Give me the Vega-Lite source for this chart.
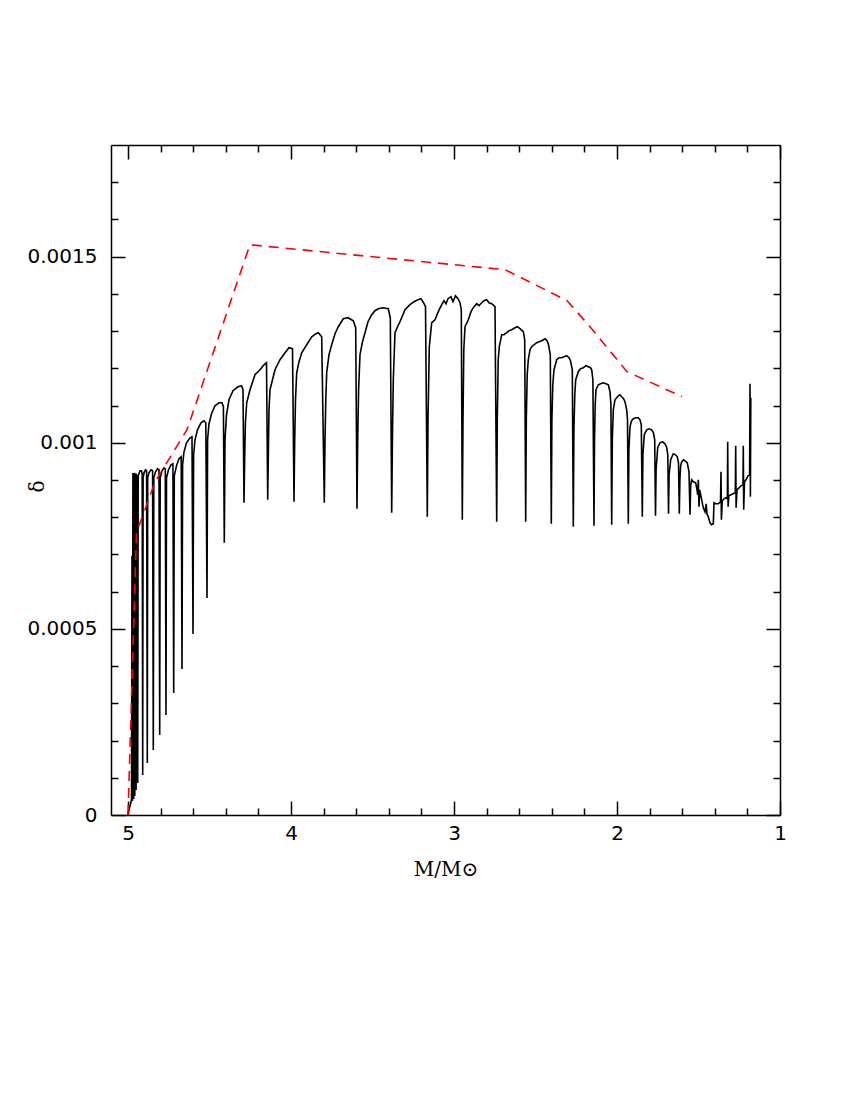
{
"$schema": "https://vega.github.io/schema/vega-lite/v6.json",
"width": 669, "height": 670,
"autosize": {"type": "none"},
"padding": {"left": 111, "top": 145, "right": 70, "bottom": 285},
"background": "white",
"config": {"view": {"stroke": null}, "axis": {"grid": false, "domainColor": "black", "tickColor": "black", "domainWidth": 1.5, "tickWidth": 1.5, "labelColor": "black", "titleColor": "black", "labelFont": "DejaVu Sans", "labelFontSize": 20, "titleFont": "DejaVu Serif", "titleFontSize": 20, "titleFontWeight": "normal", "labelFlush": false, "labelOverlap": false}},
"datasets": {
"sim": [
{"M":5.0031,"d":0},{"M":4.9908,"d":0.0000188},{"M":4.9785,"d":0.0000403},{"M":4.9755,"d":0.0006962},{"M":4.9730,"d":0.0000376},{"M":4.9699,"d":0.0009167},{"M":4.9669,"d":0.0009167},{"M":4.9650,"d":0.0000430},{"M":4.9632,"d":0.0009167},{"M":4.9601,"d":0.0009140},{"M":4.9583,"d":0.0000511},{"M":4.9564,"d":0.0009140},{"M":4.9521,"d":0.0009113},{"M":4.9503,"d":0.0000672},{"M":4.9485,"d":0.0009140},{"M":4.9436,"d":0.0009113},{"M":4.9405,"d":0.0000860},{"M":4.9374,"d":0.0009113},{"M":4.9264,"d":0.0009247},{"M":4.9172,"d":0.0009247},{"M":4.9129,"d":0.0009167},
{"M":4.9098,"d":0.0001075},{"M":4.9074,"d":0.0009059},{"M":4.9018,"d":0.0009194},{"M":4.8926,"d":0.0009274},{"M":4.8859,"d":0.0009247},
{"M":4.8816,"d":0.0001398},{"M":4.8791,"d":0.0009059},{"M":4.8712,"d":0.0009194},{"M":4.8589,"d":0.0009274},{"M":4.8491,"d":0.0009247},
{"M":4.8448,"d":0.0001747},{"M":4.8417,"d":0.0009059},{"M":4.8313,"d":0.0009220},{"M":4.8190,"d":0.0009301},{"M":4.8098,"d":0.0009274},
{"M":4.8055,"d":0.0002151},{"M":4.8025,"d":0.0009059},{"M":4.7914,"d":0.0009247},{"M":4.7791,"d":0.0009328},{"M":4.7712,"d":0.0009301},
{"M":4.7669,"d":0.0002688},{"M":4.7638,"d":0.0009059},{"M":4.7515,"d":0.0009274},{"M":4.7362,"d":0.0009409},{"M":4.7245,"d":0.0009435},
{"M":4.7196,"d":0.0003280},{"M":4.7160,"d":0.0009113},{"M":4.7025,"d":0.0009382},{"M":4.6871,"d":0.0009570},{"M":4.6736,"d":0.0009624},
{"M":4.6687,"d":0.0003925},{"M":4.6650,"d":0.0009409},{"M":4.6564,"d":0.0009758},{"M":4.6411,"d":0.0010000},{"M":4.6196,"d":0.0010134},{"M":4.6074,"d":0.0010161},
{"M":4.6012,"d":0.0004866},{"M":4.5975,"d":0.0009677},{"M":4.5890,"d":0.0010081},{"M":4.5736,"d":0.0010349},{"M":4.5521,"d":0.0010538},{"M":4.5337,"d":0.0010591},{"M":4.5227,"d":0.0010538},
{"M":4.5153,"d":0.0005833},{"M":4.5117,"d":0.0010081},{"M":4.5031,"d":0.0010511},{"M":4.4877,"d":0.0010780},{"M":4.4663,"d":0.0010995},{"M":4.4417,"d":0.0011075},{"M":4.4233,"d":0.0011075},{"M":4.4147,"d":0.0010968},
{"M":4.4092,"d":0.0007312},{"M":4.4049,"d":0.0010081},{"M":4.3957,"d":0.0010753},{"M":4.3804,"d":0.0011156},{"M":4.3558,"d":0.0011398},{"M":4.3252,"d":0.0011505},{"M":4.3037,"d":0.0011532},{"M":4.2945,"d":0.0011425},
{"M":4.2883,"d":0.0008387},{"M":4.2840,"d":0.0009624},{"M":4.2798,"d":0.0010538},{"M":4.2718,"d":0.0011075},{"M":4.2515,"d":0.0011425},{"M":4.2209,"d":0.0011828},{"M":4.1902,"d":0.0011962},{"M":4.1656,"d":0.0012097},{"M":4.1503,"d":0.0012151},
{"M":4.1429,"d":0.0008468},{"M":4.1387,"d":0.0009812},{"M":4.1350,"d":0.0010887},{"M":4.1288,"d":0.0011425},{"M":4.0982,"d":0.0011962},{"M":4.0675,"d":0.0012231},{"M":4.0368,"d":0.0012419},{"M":4.0123,"d":0.0012554},{"M":3.9908,"d":0.0012527},
{"M":3.9816,"d":0.0008414},{"M":3.9773,"d":0.0010081},{"M":3.9724,"d":0.0011156},{"M":3.9650,"d":0.0011882},{"M":3.9509,"d":0.0012177},{"M":3.9344,"d":0.0012419},{"M":3.9037,"d":0.0012634},{"M":3.8730,"d":0.0012849},{"M":3.8466,"d":0.0012930},{"M":3.8325,"d":0.0012957},{"M":3.8117,"d":0.0012849},
{"M":3.7957,"d":0.0008387},{"M":3.7914,"d":0.0010081},{"M":3.7865,"d":0.0011156},{"M":3.7810,"d":0.0011882},{"M":3.7669,"d":0.0012366},{"M":3.7503,"d":0.0012634},{"M":3.7301,"d":0.0012930},{"M":3.7098,"d":0.0013118},{"M":3.6791,"d":0.0013333},{"M":3.6503,"d":0.0013360},{"M":3.6178,"d":0.0013280},{"M":3.6031,"d":0.0013091},
{"M":3.5951,"d":0.0008226},{"M":3.5908,"d":0.0010081},{"M":3.5853,"d":0.0011425},{"M":3.5767,"d":0.0012366},{"M":3.5613,"d":0.0012715},{"M":3.5460,"d":0.0012957},{"M":3.5276,"d":0.0013253},{"M":3.5049,"d":0.0013441},{"M":3.4847,"d":0.0013548},{"M":3.4644,"d":0.0013602},{"M":3.4356,"d":0.0013629},{"M":3.4031,"d":0.0013602},{"M":3.3908,"d":0.0013360},
{"M":3.3822,"d":0.0008118},{"M":3.3779,"d":0.0010081},{"M":3.3724,"d":0.0011694},{"M":3.3620,"d":0.0012957},{"M":3.3466,"d":0.0013118},{"M":3.3313,"d":0.0013253},{"M":3.3006,"d":0.0013575},{"M":3.2699,"d":0.0013710},{"M":3.2454,"d":0.0013790},{"M":3.2209,"d":0.0013844},{"M":3.2025,"d":0.0013871},{"M":3.1871,"d":0.0013763},{"M":3.1748,"d":0.0013656},
{"M":3.1638,"d":0.0008011},{"M":3.1595,"d":0.0010618},{"M":3.1515,"d":0.0012581},{"M":3.1368,"d":0.0013226},{"M":3.1166,"d":0.0013306},{"M":3.0963,"d":0.0013522},{"M":3.0755,"d":0.0013710},{"M":3.0613,"d":0.0013817},{"M":3.0491,"d":0.0013737},{"M":3.0368,"d":0.0013871},{"M":3.0184,"d":0.0013925},{"M":3.0061,"d":0.0013790},{"M":2.9908,"d":0.0013952},{"M":2.9755,"d":0.0013871},{"M":2.9632,"d":0.0013763},{"M":2.9552,"d":0.0013575},
{"M":2.9491,"d":0.0007930},{"M":2.9448,"d":0.0010618},{"M":2.9399,"d":0.0012500},{"M":2.9325,"d":0.0013118},{"M":2.9123,"d":0.0013306},{"M":2.8957,"d":0.0013522},{"M":2.8816,"d":0.0013629},{"M":2.8607,"d":0.0013737},{"M":2.8466,"d":0.0013683},{"M":2.8301,"d":0.0013763},{"M":2.8160,"d":0.0013817},{"M":2.7994,"d":0.0013844},{"M":2.7853,"d":0.0013763},{"M":2.7687,"d":0.0013737},{"M":2.7485,"d":0.0013656},
{"M":2.7380,"d":0.0007876},{"M":2.7344,"d":0.0010618},{"M":2.7288,"d":0.0012231},{"M":2.7221,"d":0.0012581},{"M":2.7074,"d":0.0012903},{"M":2.6933,"d":0.0012903},{"M":2.6767,"d":0.0012957},{"M":2.6626,"d":0.0013011},{"M":2.6460,"d":0.0013038},{"M":2.6258,"d":0.0013091},{"M":2.6104,"d":0.0013118},{"M":2.5951,"d":0.0013065},{"M":2.5748,"d":0.0012984},{"M":2.5663,"d":0.0012769},
{"M":2.5601,"d":0.0007876},{"M":2.5564,"d":0.0010618},{"M":2.5509,"d":0.0011828},{"M":2.5442,"d":0.0012231},{"M":2.5337,"d":0.0012500},{"M":2.5233,"d":0.0012581},{"M":2.4926,"d":0.0012688},{"M":2.4785,"d":0.0012715},{"M":2.4620,"d":0.0012742},{"M":2.4417,"d":0.0012796},{"M":2.4294,"d":0.0012742},{"M":2.4202,"d":0.0012634},{"M":2.4092,"d":0.0012366},
{"M":2.4031,"d":0.0007823},{"M":2.3994,"d":0.0010618},{"M":2.3939,"d":0.0011559},{"M":2.3865,"d":0.0011962},{"M":2.3699,"d":0.0012231},{"M":2.3558,"d":0.0012285},{"M":2.3393,"d":0.0012285},{"M":2.3252,"d":0.0012312},{"M":2.3086,"d":0.0012339},{"M":2.2945,"d":0.0012285},{"M":2.2853,"d":0.0012204},{"M":2.2742,"d":0.0011962},
{"M":2.2681,"d":0.0007742},{"M":2.2644,"d":0.0010349},{"M":2.2589,"d":0.0011290},{"M":2.2534,"d":0.0011694},{"M":2.2374,"d":0.0011909},{"M":2.2239,"d":0.0011989},{"M":2.2067,"d":0.0012016},{"M":2.1902,"d":0.0012070},{"M":2.1761,"d":0.0012043},{"M":2.1626,"d":0.0012016},{"M":2.1552,"d":0.0011962},{"M":2.1479,"d":0.0011694},
{"M":2.1411,"d":0.0007769},{"M":2.1380,"d":0.0010081},{"M":2.1337,"d":0.0011022},{"M":2.1288,"d":0.0011425},{"M":2.1147,"d":0.0011559},{"M":2.1012,"d":0.0011586},{"M":2.0840,"d":0.0011613},{"M":2.0675,"d":0.0011586},{"M":2.0534,"d":0.0011559},{"M":2.0429,"d":0.0011371},{"M":2.0374,"d":0.0011022},
{"M":2.0325,"d":0.0007796},{"M":2.0288,"d":0.0010081},{"M":2.0227,"d":0.0010887},{"M":2.0123,"d":0.0011156},{"M":1.9920,"d":0.0011263},{"M":1.9816,"d":0.0011290},{"M":1.9712,"d":0.0011237},{"M":1.9601,"d":0.0011183},{"M":1.9509,"d":0.0011102},{"M":1.9405,"d":0.0010887},{"M":1.9356,"d":0.0010618},
{"M":1.9307,"d":0.0007823},{"M":1.9270,"d":0.0009812},{"M":1.9202,"d":0.0010430},{"M":1.9110,"d":0.0010591},{"M":1.9000,"d":0.0010645},{"M":1.8834,"d":0.0010672},{"M":1.8693,"d":0.0010672},{"M":1.8589,"d":0.0010618},{"M":1.8509,"d":0.0010484},
{"M":1.8448,"d":0.0008011},{"M":1.8411,"d":0.0009677},{"M":1.8325,"d":0.0010215},{"M":1.8178,"d":0.0010349},{"M":1.8037,"d":0.0010376},{"M":1.7871,"d":0.0010349},{"M":1.7761,"d":0.0010269},{"M":1.7687,"d":0.0010081},
{"M":1.7638,"d":0.0008038},{"M":1.7601,"d":0.0009274},{"M":1.7503,"d":0.0009866},{"M":1.7362,"d":0.0010000},{"M":1.7209,"d":0.0010027},{"M":1.7055,"d":0.0009973},{"M":1.6945,"d":0.0009866},{"M":1.6883,"d":0.0009677},
{"M":1.6840,"d":0.0008091},{"M":1.6804,"d":0.0009140},{"M":1.6706,"d":0.0009543},{"M":1.6546,"d":0.0009704},{"M":1.6411,"d":0.0009677},{"M":1.6301,"d":0.0009624},{"M":1.6227,"d":0.0009462},
{"M":1.6178,"d":0.0008091},{"M":1.6141,"d":0.0009005},{"M":1.6098,"d":0.0009382},{"M":1.6031,"d":0.0009489},{"M":1.5920,"d":0.0009543},{"M":1.5828,"d":0.0009516},{"M":1.5687,"d":0.0009462},{"M":1.5583,"d":0.0009220},
{"M":1.5521,"d":0.0008065},{"M":1.5479,"d":0.0008871},{"M":1.5417,"d":0.0009005},{"M":1.5319,"d":0.0008952},{"M":1.5172,"d":0.0008925},{"M":1.5092,"d":0.0008737},{"M":1.5049,"d":0.0008602},{"M":1.5012,"d":0.0009005},{"M":1.4969,"d":0.0008280},{"M":1.4926,"d":0.0008737},{"M":1.4804,"d":0.0008468},{"M":1.4706,"d":0.0008253},{"M":1.4601,"d":0.0008145},{"M":1.4528,"d":0.0008360},{"M":1.4479,"d":0.0008091},{"M":1.4399,"d":0.0008011},{"M":1.4294,"d":0.0007849},{"M":1.4202,"d":0.0007796},{"M":1.4092,"d":0.0007823},{"M":1.4049,"d":0.0008387},{"M":1.3926,"d":0.0008360},{"M":1.3785,"d":0.0008360},{"M":1.3650,"d":0.0008414},{"M":1.3620,"d":0.0009220},{"M":1.3595,"d":0.0007930},{"M":1.3540,"d":0.0008441},{"M":1.3436,"d":0.0008495},{"M":1.3313,"d":0.0008522},{"M":1.3227,"d":0.0008495},{"M":1.3209,"d":0.0010027},{"M":1.3184,"d":0.0008280},{"M":1.3141,"d":0.0008575},{"M":1.3006,"d":0.0008602},{"M":1.2883,"d":0.0008629},{"M":1.2742,"d":0.0008656},{"M":1.2718,"d":0.0009919},{"M":1.2693,"d":0.0008253},{"M":1.2638,"d":0.0008737},{"M":1.2515,"d":0.0008790},{"M":1.2393,"d":0.0008844},{"M":1.2270,"d":0.0008871},{"M":1.2252,"d":0.0009919},{"M":1.2227,"d":0.0008199},{"M":1.2178,"d":0.0008952},{"M":1.2086,"d":0.0009005},{"M":1.1963,"d":0.0009113},{"M":1.1865,"d":0.0009140},{"M":1.1840,"d":0.0011586},{"M":1.1816,"d":0.0008548},{"M":1.1791,"d":0.0011210}
],
"fit": [
{"M":5.0,"d":0},{"M":4.948,"d":0.000758},{"M":4.834,"d":0.000895},{"M":4.638,"d":0.001035},{"M":4.252,"d":0.001532},{"M":2.687,"d":0.001465},{"M":2.307,"d":0.001382},{"M":2.166,"d":0.001312},{"M":1.939,"d":0.001191},{"M":1.601,"d":0.001124}
]
},
"layer": [
{
"data": {"name": "sim"},
"mark": {"type": "line", "color": "black", "strokeWidth": 1.6},
"encoding": {
"x": {"field": "M", "type": "quantitative", "scale": {"domain": [5.1043, 1], "nice": false, "zero": false},
"axis": {"orient": "bottom", "values": [5, 4, 3, 2, 1], "format": "d", "tickSize": -14, "labelPadding": 22, "title": "M/M⊙", "titleY": 60, "titleBaseline": "alphabetic"}},
"y": {"field": "d", "type": "quantitative", "scale": {"domain": [0, 0.0018], "nice": false, "zero": false},
"axis": {"orient": "left", "values": [0, 0.0005, 0.001, 0.0015], "format": "~g", "tickSize": -14, "labelPadding": 28, "title": "δ", "titleX": -74, "titleY": 341, "titleAlign": "center", "titleBaseline": "middle"}}
}
},
{
"data": {"name": "fit"},
"mark": {"type": "line", "color": "#ff0000", "strokeWidth": 1.6, "strokeDash": [10, 7]},
"encoding": {
"x": {"field": "M", "type": "quantitative", "axis": {"orient": "top", "values": [5, 4, 3, 2, 1], "tickSize": -14, "labels": false, "title": null}},
"y": {"field": "d", "type": "quantitative", "axis": {"orient": "right", "values": [0, 0.0005, 0.001, 0.0015], "tickSize": -14, "labels": false, "title": null}}
}
},
{
"data": {"name": "fit"},
"mark": {"type": "point", "opacity": 0},
"encoding": {
"x": {"field": "M", "type": "quantitative", "axis": {"orient": "bottom", "values": [4.8, 4.6, 4.4, 4.2, 3.8, 3.6, 3.4, 3.2, 2.8, 2.6, 2.4, 2.2, 1.8, 1.6, 1.4, 1.2], "tickSize": -7, "labels": false, "domain": false, "title": null}},
"y": {"field": "d", "type": "quantitative", "axis": {"orient": "left", "values": [0.0001, 0.0002, 0.0003, 0.0004, 0.0006, 0.0007, 0.0008, 0.0009, 0.0011, 0.0012, 0.0013, 0.0014, 0.0016, 0.0017], "tickSize": -7, "labels": false, "domain": false, "title": null}}
}
},
{
"data": {"name": "fit"},
"mark": {"type": "point", "opacity": 0},
"encoding": {
"x": {"field": "M", "type": "quantitative", "axis": {"orient": "top", "values": [4.8, 4.6, 4.4, 4.2, 3.8, 3.6, 3.4, 3.2, 2.8, 2.6, 2.4, 2.2, 1.8, 1.6, 1.4, 1.2], "tickSize": -7, "labels": false, "domain": false, "title": null}},
"y": {"field": "d", "type": "quantitative", "axis": {"orient": "right", "values": [0.0001, 0.0002, 0.0003, 0.0004, 0.0006, 0.0007, 0.0008, 0.0009, 0.0011, 0.0012, 0.0013, 0.0014, 0.0016, 0.0017], "tickSize": -7, "labels": false, "domain": false, "title": null}}
}
}
],
"resolve": {"axis": {"x": "independent", "y": "independent"}}
}
